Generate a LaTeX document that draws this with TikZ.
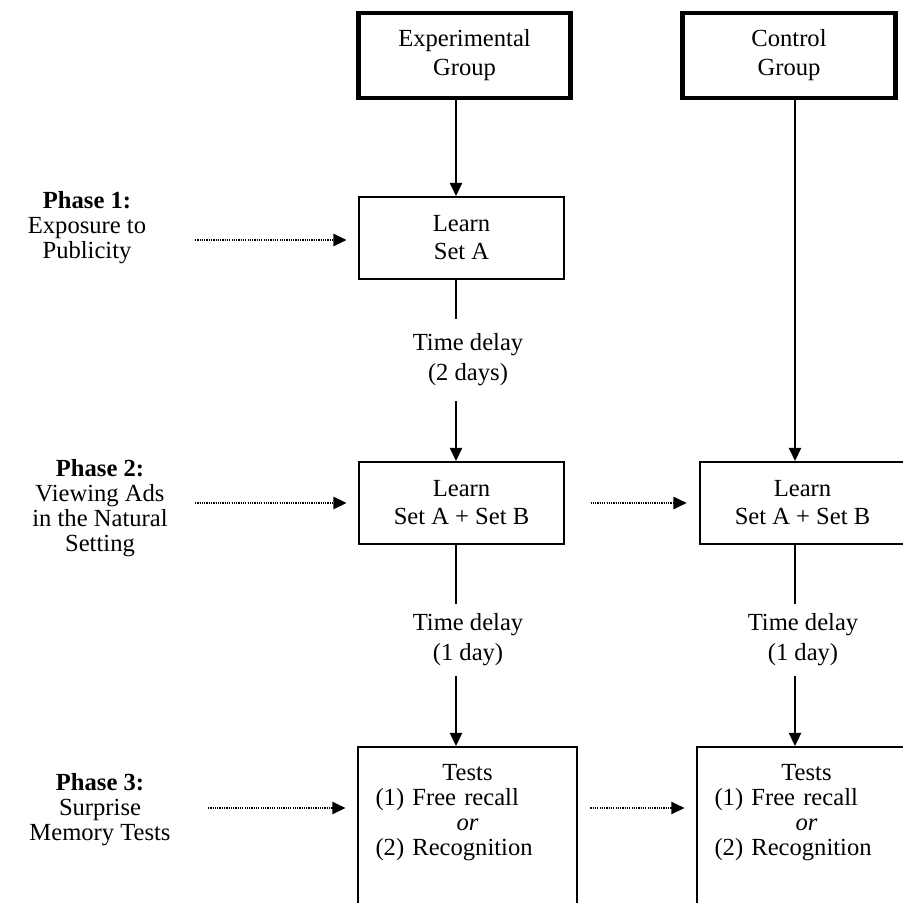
\documentclass[tikz,border=0pt]{standalone}
\usepackage{fontspec}
\setmainfont{Liberation Serif}
\usetikzlibrary{arrows.meta}

\begin{document}
\begin{tikzpicture}[x=0.02cm, y=-0.02cm,
  groupbox/.style={draw, line width=2.6pt, minimum width=4.25cm, minimum height=1.7cm, align=center, font=\fontsize{14}{16.5}\selectfont},
  learnbox/.style={draw, line width=1.2pt, minimum width=4.1cm, minimum height=1.64cm, align=center, font=\fontsize{14}{16}\selectfont},
  testbox/.style={draw, line width=1.2pt, anchor=north, text width=3.68cm, inner xsep=10pt, inner ysep=10pt, align=center, font=\fontsize{14}{14.2}\selectfont},
  delay/.style={inner sep=0pt, align=center, font=\fontsize{14}{17}\selectfont},
  phase/.style={align=center, font=\fontsize{14}{14.2}\selectfont},
  conn/.style={line width=1pt},
  arr/.style={conn, -{Triangle[length=7.5pt,width=7pt]}},
  dotarr/.style={line width=0.9pt, dash pattern=on 0.7pt off 0.6pt, -{Triangle[length=7.5pt,width=7pt]}}]
\useasboundingbox (0,0) rectangle (903,903);
\clip (0,0) rectangle (903,903);
% columns
\coordinate (lineE) at (456,0);
\coordinate (lineC) at (795,0);
% experimental group
\node[groupbox] (expgroup) at (464.5,55.5) {Experimental\\Group};
\node[learnbox] (learnA) at (461.5,238) {Learn\\Set A};
\node[delay, minimum height=1.64cm] (delayA) at (468,360) {Time delay\\(2 days)};
\node[learnbox] (learnAB) at (461.5,503) {Learn\\Set A + Set B};
\node[delay, minimum height=1.44cm] (delayB) at (468,640) {Time delay\\(1 day)};
\node[testbox] (testE) at (467.5,746) {Tests\\\makebox[\hsize][l]{(1) Free recall}\\\textit{or}\\\makebox[\hsize][l]{(2) Recognition}\rule[-50pt]{0pt}{50pt}};
\draw[arr](expgroup.south -| lineE) -- (learnA.north -| lineE);
\draw[conn](learnA.south -| lineE) -- (delayA.north -| lineE);
\draw[arr](delayA.south -| lineE) -- (learnAB.north -| lineE);
\draw[conn](learnAB.south -| lineE) -- (delayB.north -| lineE);
\draw[arr](delayB.south -| lineE) -- (testE.north -| lineE);
% control group
\node[groupbox] (ctrlgroup) at (789,55.5) {Control\\Group};
\node[learnbox] (learnABc) at (802.5,503) {Learn\\Set A + Set B};
\node[delay, minimum height=1.44cm] (delayC) at (803,640) {Time delay\\(1 day)};
\node[testbox] (testC) at (806.5,746) {Tests\\\makebox[\hsize][l]{(1) Free recall}\\\textit{or}\\\makebox[\hsize][l]{(2) Recognition}\rule[-50pt]{0pt}{50pt}};
\draw[arr](ctrlgroup.south -| lineC) -- (learnABc.north -| lineC);
\draw[conn](learnABc.south -| lineC) -- (delayC.north -| lineC);
\draw[arr](delayC.south -| lineC) -- (testC.north -| lineC);
% phases
\node[phase] (phase1) at (87,227.5) {\textbf{Phase 1:}\\Exposure to\\Publicity};
\node[phase] (phase2) at (100,508) {\textbf{Phase 2:}\\Viewing Ads\\in the Natural\\Setting};
\node[phase] (phase3) at (100,810) {\textbf{Phase 3:}\\Surprise\\Memory Tests};
\coordinate (p1s) at (195,240);
\coordinate (p2s) at (195,503);
\coordinate (p3s) at (208,808);
\draw[dotarr](p1s) -- (p1s -| learnA.west) [shorten >=6.5pt];
\draw[dotarr](p2s) -- (p2s -| learnAB.west) [shorten >=6.5pt];
\draw[dotarr](p3s) -- (p3s -| testE.west) [shorten >=6.5pt];
\draw[dotarr, shorten <=14.5pt, shorten >=7pt](learnAB.east) -- (learnABc.west);
\draw[dotarr, shorten <=7pt, shorten >=6.5pt](p3s -| testE.east) -- (p3s -| testC.west);
\end{tikzpicture}
\end{document}
